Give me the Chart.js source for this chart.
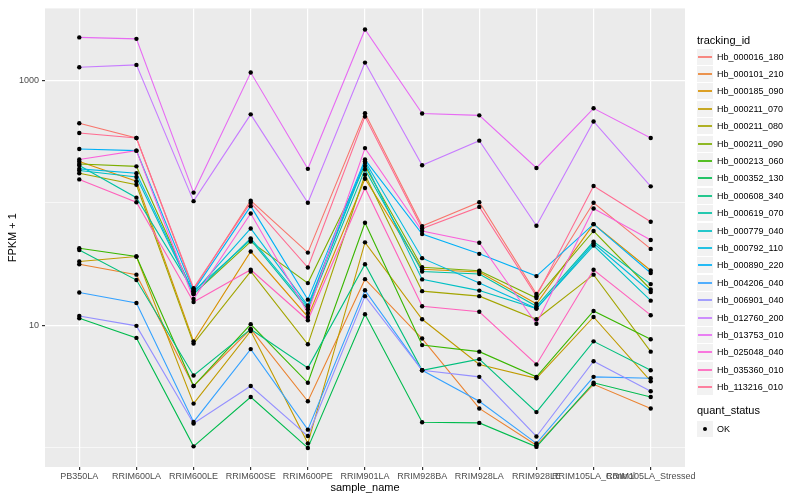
<!DOCTYPE html>
<html>
<head>
<meta charset="utf-8">
<script src="https://cdn.jsdelivr.net/npm/chart.js@4.4.1/dist/chart.umd.min.js"></script>
<style>
  html, body { margin: 0; padding: 0; background: #fff; }
  #wrap { position: relative; width: 800px; height: 500px; font-family: "Liberation Sans", Arial, sans-serif; }
  #chart { position: absolute; left: 0; top: 0; }
  .lg-title { position: absolute; left: 697px; font-size: 11px; line-height: 13px; color: #000; }
  .lg-row { position: absolute; left: 697px; height: 16px; width: 100px; }
  .lg-key { position: absolute; left: 0; top: 0; width: 16px; height: 16px; background: #F2F2F2; }
  .lg-line { position: absolute; left: 1px; right: 1px; top: 7px; height: 2px; opacity: 0.85; }
  .lg-dot { position: absolute; left: 6px; top: 6px; width: 4px; height: 4px; border-radius: 50%; background: #000; }
  .lg-text { position: absolute; left: 20px; top: 0; font-size: 9px; line-height: 16px; color: #000; white-space: nowrap; }
</style>
</head>
<body>
<div id="wrap">
  <canvas id="chart" width="800" height="500"></canvas>
  <div id="legend"></div>
</div>
<script>
// categorias do eixo x
const categories = ['PB350LA', 'RRIM600LA', 'RRIM600LE', 'RRIM600SE', 'RRIM600PE', 'RRIM901LA',
    'RRIM928BA', 'RRIM928LA', 'RRIM928LE', 'RRIM105LA_Control', 'RRIM105LA_Stressed'];

// FPKM + 1 por gene
const hb000016_180 = [445, 337, 19.6, 104, 39.2, 537, 64.5, 101, 18.0, 100, 42.0];
const hb000101_210 = [31.5, 25.9, 3.2, 9.3, 2.4, 23.8, 7.8, 2.1, 1.05, 3.3, 2.1];
const hb000185_090 = [217, 150, 7.4, 40.0, 11.7, 157, 28.7, 27.2, 15.0, 66.9, 28.0];
const hb000211_070 = [33.2, 36.4, 2.3, 9.0, 1.09, 47.5, 11.2, 4.8, 3.7, 11.7, 3.5];
const hb000211_080 = [174, 140, 7.1, 27.5, 7.0, 169, 19.0, 17.3, 11.2, 25.9, 6.1];
const hb000211_090 = [207, 198, 18.0, 48.2, 22.1, 199, 29.8, 27.9, 16.7, 58.8, 19.6];
const hb000213_060 = [42.5, 36.4, 3.2, 10.2, 3.4, 68.6, 6.9, 6.1, 3.8, 13.1, 7.7];
const hb000352_130 = [11.4, 7.9, 1.03, 2.6, 1.0, 12.3, 1.62, 1.6, 1.02, 3.4, 2.6];
const hb000608_340 = [41.2, 23.4, 3.9, 9.3, 4.5, 31.5, 4.3, 5.3, 1.96, 7.4, 4.3];
const hb000619_070 = [201, 110, 19.0, 49.7, 13.5, 187, 27.5, 26.2, 14.3, 48.2, 21.7];
const hb000779_040 = [183, 162, 18.0, 51.2, 14.1, 211, 23.7, 19.2, 13.7, 44.7, 15.9];
const hb000792_110 = [189, 174, 18.4, 61.7, 14.5, 218, 35.3, 22.1, 13.7, 46.6, 18.7];
const hb000890_220 = [274, 266, 19.0, 93.8, 16.2, 225, 55.6, 38.3, 25.2, 66.9, 26.7];
const hb004206_040 = [18.5, 15.2, 1.63, 6.4, 1.41, 19.3, 4.3, 2.4, 1.09, 3.8, 3.7];
const hb006901_040 = [11.9, 9.9, 1.58, 3.2, 1.25, 17.3, 4.3, 3.8, 1.24, 5.1, 2.9];
const hb012760_200 = [1274, 1331, 103, 526, 100, 1390, 202, 321, 64.9, 460, 136];
const hb013753_010 = [2230, 2170, 121, 1153, 189, 2590, 534, 516, 192, 589, 337];
const hb025048_040 = [225, 266, 16.4, 81.6, 12.6, 279, 58.8, 47.2, 10.3, 89.6, 49.7];
const hb035360_010 = [155, 101, 15.5, 28.4, 11.0, 132, 14.3, 12.9, 4.8, 28.4, 12.1];
const hb113216_010 = [370, 337, 20.1, 100, 29.6, 504, 61.7, 92.5, 17.3, 137, 69.9];

const seriesNames = ['Hb_000016_180', 'Hb_000101_210', 'Hb_000185_090', 'Hb_000211_070', 'Hb_000211_080',
    'Hb_000211_090', 'Hb_000213_060', 'Hb_000352_130', 'Hb_000608_340', 'Hb_000619_070',
    'Hb_000779_040', 'Hb_000792_110', 'Hb_000890_220', 'Hb_004206_040', 'Hb_006901_040',
    'Hb_012760_200', 'Hb_013753_010', 'Hb_025048_040', 'Hb_035360_010', 'Hb_113216_010'];
const seriesValues = [hb000016_180, hb000101_210, hb000185_090, hb000211_070, hb000211_080,
    hb000211_090, hb000213_060, hb000352_130, hb000608_340, hb000619_070,
    hb000779_040, hb000792_110, hb000890_220, hb004206_040, hb006901_040,
    hb012760_200, hb013753_010, hb025048_040, hb035360_010, hb113216_010];

// eixo y (log10)
const yTicks = [1, 10, 100, 1000];
const yTickLabels = [10, 1000];

const statusLabels = ['OK'];

// paleta hue do ggplot, 20 cores
const palette = ['#F8766D', '#EA8331', '#D89000', '#C09B00', '#A3A500', '#7CAE00', '#39B600', '#00BB4E',
    '#00BF7D', '#00C1A3', '#00BFC4', '#00BAE0', '#00B0F6', '#35A2FF', '#9590FF', '#C77CFF',
    '#E76BF3', '#FA62DB', '#FF62BC', '#FF6C91'];

const FONT = '"Liberation Sans", Arial, sans-serif';

const datasets = seriesValues.map((vals, s) => ({
    label: seriesNames[s],
    data: vals.map((v, i) => ({ x: i, y: v })),
    borderColor: palette[s],
    backgroundColor: palette[s],
    borderWidth: 1.1,
    pointRadius: 0,
    tension: 0,
    order: seriesValues.length - s
}));

// pontos pretos por cima de todas as linhas
datasets.push({
    label: 'quant_status',
    data: seriesValues.flatMap(vals => vals.map((v, i) => ({ x: i, y: v }))),
    showLine: false,
    pointRadius: 2.2,
    pointBackgroundColor: '#000',
    pointBorderWidth: 0,
    order: 0
});

const panelBg = {
    id: 'panelBg',
    beforeDraw(chart) {
        const { ctx, chartArea: a } = chart;
        ctx.save();
        ctx.fillStyle = '#EBEBEB';
        ctx.fillRect(a.left, a.top, a.right - a.left, a.bottom - a.top);
        ctx.restore();
    }
};

new Chart(document.getElementById('chart').getContext('2d'), {
    type: 'line',
    data: { datasets: datasets },
    options: {
        responsive: false,
        animation: false,
        events: [],
        layout: { padding: { left: 0, right: 115, top: 5, bottom: 0 } },
        plugins: { legend: { display: false }, tooltip: { enabled: false } },
        scales: {
            x: {
                type: 'linear',
                min: -0.6,
                max: 10.6,
                afterBuildTicks: (scale) => { scale.ticks = categories.map((c, i) => ({ value: i })); },
                afterFit: (scale) => { scale.height = 33; },
                ticks: {
                    autoSkip: false, maxRotation: 0, minRotation: 0, padding: 1,
                    color: '#4D4D4D', font: { family: FONT, size: 9 },
                    callback: (value) => categories[value]
                },
                grid: { color: '#FFFFFF', lineWidth: 1.2, tickColor: '#333333', tickLength: 3 },
                border: { display: false },
                title: { display: true, text: 'sample_name', color: '#000', font: { family: FONT, size: 11 }, padding: { top: 0, bottom: 5 } }
            },
            y: {
                type: 'logarithmic',
                min: 0.699,
                max: 3846,
                afterBuildTicks: (scale) => { scale.ticks = yTicks.map(v => ({ value: v })); },
                afterFit: (scale) => { scale.width = 45; },
                ticks: {
                    padding: 3, color: '#4D4D4D', font: { family: FONT, size: 9 },
                    callback: (value) => yTickLabels.includes(value) ? String(value) : ''
                },
                grid: {
                    color: '#FFFFFF',
                    lineWidth: (ctx) => (ctx.tick && yTickLabels.includes(ctx.tick.value)) ? 1.2 : 0.6,
                    tickColor: (ctx) => (ctx.tick && yTickLabels.includes(ctx.tick.value)) ? '#333333' : 'rgba(0,0,0,0)',
                    tickLength: 3
                },
                border: { display: false },
                title: { display: true, text: 'FPKM + 1', color: '#000', font: { family: FONT, size: 11 }, padding: { top: 6, bottom: 0 } }
            }
        }
    },
    plugins: [panelBg]
});

// legenda no estilo ggplot
const legend = document.getElementById('legend');
let html = '<div class="lg-title" style="top:34px">tracking_id</div>';
seriesNames.forEach((name, i) => {
    const top = Math.round(48.5 + i * 17.4);
    html += '<div class="lg-row" style="top:' + top + 'px"><div class="lg-key"><div class="lg-line" style="background:' +
        palette[i] + '"></div></div><div class="lg-text">' + name + '</div></div>';
});
html += '<div class="lg-title" style="top:404px">quant_status</div>';
statusLabels.forEach((name, i) => {
    const top = 421 + i * 17;
    html += '<div class="lg-row" style="top:' + top + 'px"><div class="lg-key"><div class="lg-dot"></div></div><div class="lg-text">' + name + '</div></div>';
});
legend.innerHTML = html;
</script>
</body>
</html>
